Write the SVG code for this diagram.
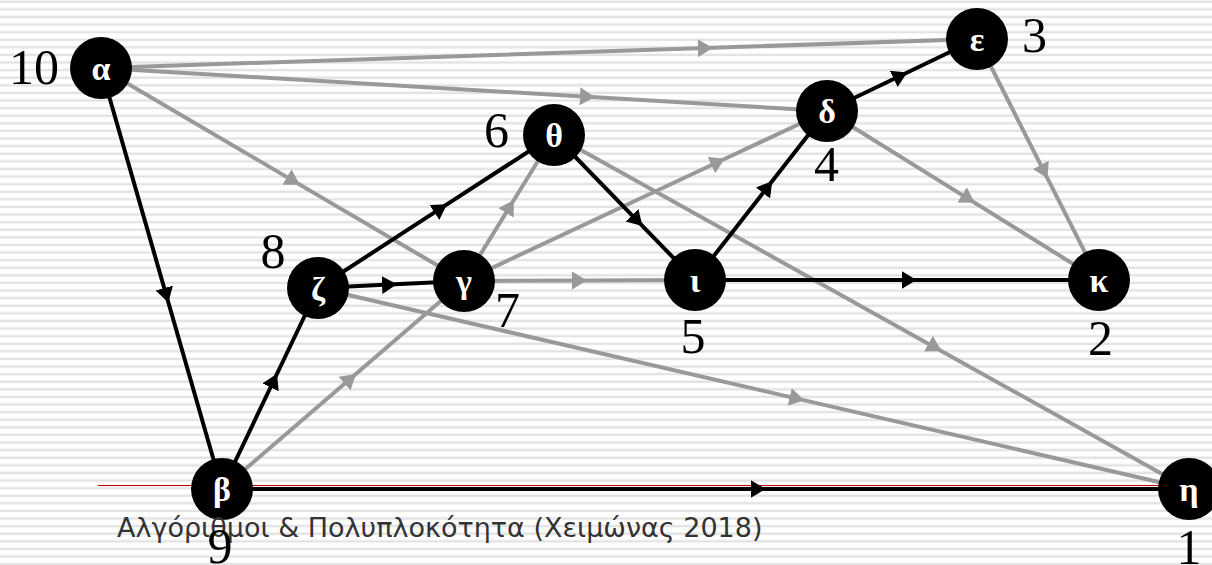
<svg xmlns="http://www.w3.org/2000/svg" width="1212" height="565" viewBox="0 0 1212 565">
<style>
.e{fill:none;stroke-linejoin:round}
.b{stroke:#000;stroke-width:4;marker-mid:url(#ab)}
.g{stroke:#999;stroke-width:4;marker-mid:url(#ag)}
.n circle{fill:#000}
.lbl{font-family:"Liberation Serif","DejaVu Serif",serif;font-weight:bold;font-size:34px;fill:#fff;text-anchor:middle}
.num{font-family:"Liberation Serif","DejaVu Serif",serif;font-size:50px;fill:#000;text-anchor:middle}
.foot{font-family:"DejaVu Sans","Noto Sans",sans-serif;font-size:27px;fill:#333}
</style>
<defs>
<pattern id="stripes" patternUnits="userSpaceOnUse" width="20" height="7.6">
<rect x="0" y="0" width="20" height="7.6" fill="#fff"/>
<rect x="0" y="0.5" width="20" height="2.4" fill="#e3e3e3"/>
</pattern>
<marker id="ab" markerUnits="userSpaceOnUse" markerWidth="16" markerHeight="20" refX="7.5" refY="9" orient="auto" viewBox="0 0 16 20"><path d="M0,0 L15,9 L0,18 z" fill="#000"/></marker>
<marker id="ag" markerUnits="userSpaceOnUse" markerWidth="16" markerHeight="20" refX="7.5" refY="9" orient="auto" viewBox="0 0 16 20"><path d="M0,0 L15,9 L0,18 z" fill="#999"/></marker>
</defs>
<rect width="1212" height="565" fill="url(#stripes)"/>
<line x1="98" y1="485.5" x2="1165" y2="485.5" stroke="#c00000" stroke-width="1"/>
<g id="connectors">
<path class="e g" d="M101,68 L705.4,48 L977,39"/>
<path class="e g" d="M101,68 L587.4,96.8 L827,111"/>
<path class="e g" d="M101,68 L293.4,180.9 L464,281"/>
<path class="e g" d="M464,281 L509.9,206.5 L554,135"/>
<path class="e g" d="M464,281 L718.1,162 L827,111"/>
<path class="e g" d="M464,281 L579.5,280.5 L695,280"/>
<path class="e g" d="M554,135 L935,347.4 L1189,489"/>
<path class="e g" d="M318,288 L797,398.6 L1189,489"/>
<path class="e g" d="M222,489 L350.3,378.8 L464,281"/>
<path class="e g" d="M827,111 L968.4,198.9 L1099,280"/>
<path class="e g" d="M977,39 L1044.1,171.6 L1099,280"/>
<path class="e b" d="M101,68 L166.3,295.3 L222,489"/>
<path class="e b" d="M222,489 L273.8,380.5 L318,288"/>
<path class="e b" d="M318,288 L440.7,208.4 L554,135"/>
<path class="e b" d="M318,288 L389.5,284.6 L464,281"/>
<path class="e b" d="M554,135 L637.2,220.6 L695,280"/>
<path class="e b" d="M695,280 L767.6,187.1 L827,111"/>
<path class="e b" d="M827,111 L900.5,75.7 L977,39"/>
<path class="e b" d="M695,280 L909,280 L1099,280"/>
<path class="e b" d="M222,489 L758,489 L1189,489"/>
</g>
<g id="n-alpha" class="n"><circle cx="101" cy="68" r="31"/><text class="lbl" x="101" y="80">α</text><text class="num" x="34" y="84">10</text></g>
<g id="n-beta" class="n"><circle cx="222" cy="489" r="31"/><text class="lbl" x="222" y="501">β</text></g>
<g id="n-gamma" class="n"><circle cx="464" cy="281" r="31"/><text class="lbl" x="464" y="293">γ</text><text class="num" x="507.5" y="327">7</text></g>
<g id="n-delta" class="n"><circle cx="827" cy="111" r="31"/><text class="lbl" x="827" y="123">δ</text><text class="num" x="826.5" y="181">4</text></g>
<g id="n-epsilon" class="n"><circle cx="977" cy="39" r="31"/><text class="lbl" x="977" y="51">ε</text><text class="num" x="1034.5" y="52">3</text></g>
<g id="n-zeta" class="n"><circle cx="318" cy="288" r="31"/><text class="lbl" x="318" y="300">ζ</text><text class="num" x="273" y="268">8</text></g>
<g id="n-eta" class="n"><circle cx="1189" cy="489" r="31"/><text class="lbl" x="1189" y="501">η</text><text class="num" x="1189" y="564">1</text></g>
<g id="n-theta" class="n"><circle cx="554" cy="135" r="31"/><text class="lbl" x="554" y="147">θ</text><text class="num" x="496.5" y="147">6</text></g>
<g id="n-iota" class="n"><circle cx="695" cy="280" r="31"/><text class="lbl" x="695" y="292">ι</text><text class="num" x="693" y="353">5</text></g>
<g id="n-kappa" class="n"><circle cx="1099" cy="280" r="31"/><text class="lbl" x="1099" y="292">κ</text><text class="num" x="1100.5" y="355">2</text></g>
<text class="foot" x="117" y="537">Αλγόριθμοι &amp; Πολυπλοκότητα (Χειμώνας 2018)</text>
<text class="num" x="220" y="563">9</text>
</svg>
